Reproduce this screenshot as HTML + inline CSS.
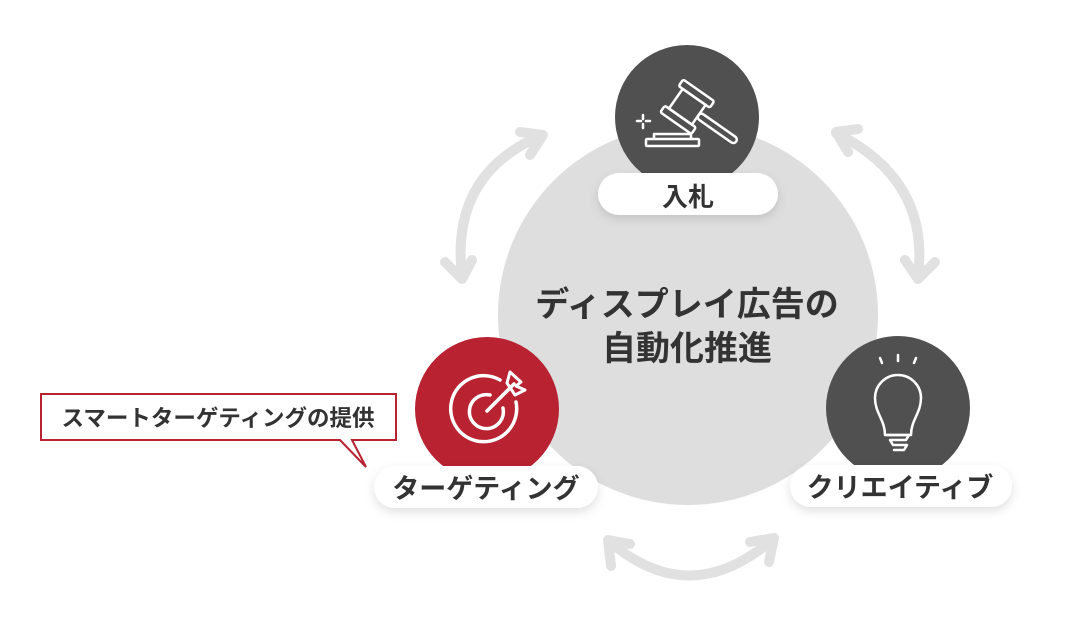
<!DOCTYPE html>
<html><head><meta charset="utf-8"><style>
html,body{margin:0;padding:0;background:#fff;}
svg{display:block;}
text{font-family:"Liberation Sans","Noto Sans CJK JP",sans-serif;font-weight:bold;fill:#333;}
</style></head><body>
<svg width="1068" height="624" viewBox="0 0 1068 624" xmlns="http://www.w3.org/2000/svg">
<defs>
<filter id="sh" x="-20%" y="-40%" width="140%" height="200%"><feDropShadow dx="0" dy="4" stdDeviation="5" flood-color="#000" flood-opacity="0.12"/></filter>
</defs>
<g fill="none" stroke="#e1e1e1" stroke-width="10" stroke-linecap="round" stroke-linejoin="round">
<path d="M540 136 Q450 175 462 276"/>
<path d="M520 132 L543 135 L530 155"/>
<path d="M445 262 L462 279 L472 260"/>
<path d="M836 133 Q930 180 918 276"/>
<path d="M858 129 L836 132 L848 152"/>
<path d="M905 260 L918 279 L935 262"/>
<path d="M610 542 Q690 610 772 540"/>
<path d="M611 566 L608 540 L630 544"/>
<path d="M750 542 L774 538 L769 562"/>
</g>
<circle cx="688" cy="315" r="190" fill="#dedede"/>
<text x="687" y="316" font-size="34" text-anchor="middle">ディスプレイ広告の</text>
<text x="687" y="360" font-size="34" text-anchor="middle">自動化推進</text>
<circle cx="687" cy="117" r="72" fill="#505050"/>
<g fill="none" stroke="#fff" stroke-width="2.5" stroke-linejoin="round">
<rect x="646" y="139" width="53" height="7" rx="1"/>
<path d="M654 139 L654 134 L691 134 L691 139"/>
<g transform="rotate(35 685 110)">
<rect x="666" y="86" width="38" height="8" rx="2"/>
<rect x="671" y="94" width="28" height="24" />
<rect x="666" y="118" width="38" height="8" rx="2"/>
<rect x="699" y="103" width="46" height="7" rx="3.5"/>
</g>
<path d="M643 115 v4 M643 124 v4 M637 121 h4 M646 121 h4" stroke-linecap="round"/>
</g>
<rect x="598" y="173" width="180" height="42" rx="21" fill="#fff" filter="url(#sh)"/>
<text x="688" y="206" font-size="26" text-anchor="middle">入札</text>
<circle cx="487" cy="409" r="72" fill="#b82231"/>
<g fill="none" stroke="#fff" stroke-width="3.5" stroke-linecap="round">
<path d="M500 380 A33 33 0 1 0 516 402"/>
<path d="M490 395 A17 17 0 1 0 503 408"/>
<path d="M487 411 L514 384"/>
<path d="M507 383 L510 372 L521 382 L516 386 L525 390 L515 395 Z" stroke-width="3" stroke-linejoin="round"/>
</g>
<rect x="374" y="466" width="224" height="42" rx="21" fill="#fff" filter="url(#sh)"/>
<text x="486" y="498" font-size="27" text-anchor="middle">ターゲティング</text>
<path d="M41 394 H396 V440 H352 L366 467 L340 440 H41 Z" fill="#fff" stroke="#b82231" stroke-width="2"/>
<text x="218" y="426" font-size="22.5" text-anchor="middle">スマートターゲティングの提供</text>
<circle cx="898" cy="408" r="72" fill="#505050"/>
<g fill="none" stroke="#fff" stroke-width="2.5" stroke-linecap="round" stroke-linejoin="round">
<path d="M885 435 C885 420 875 413 875 398 A23 23 0 1 1 921 398 C921 413 911 420 911 435 Z"/>
<path d="M887 435 h22 l-3 5 h-16 l3 5 h14 l-3 5 h-10"/>
<path d="M880 358 l2 5 M898 355 v6 M916 358 l-2 5"/>
</g>
<rect x="790" y="465" width="222" height="42" rx="21" fill="#fff" filter="url(#sh)"/>
<text x="900" y="497" font-size="27" text-anchor="middle">クリエイティブ</text>
</svg>
</body></html>
